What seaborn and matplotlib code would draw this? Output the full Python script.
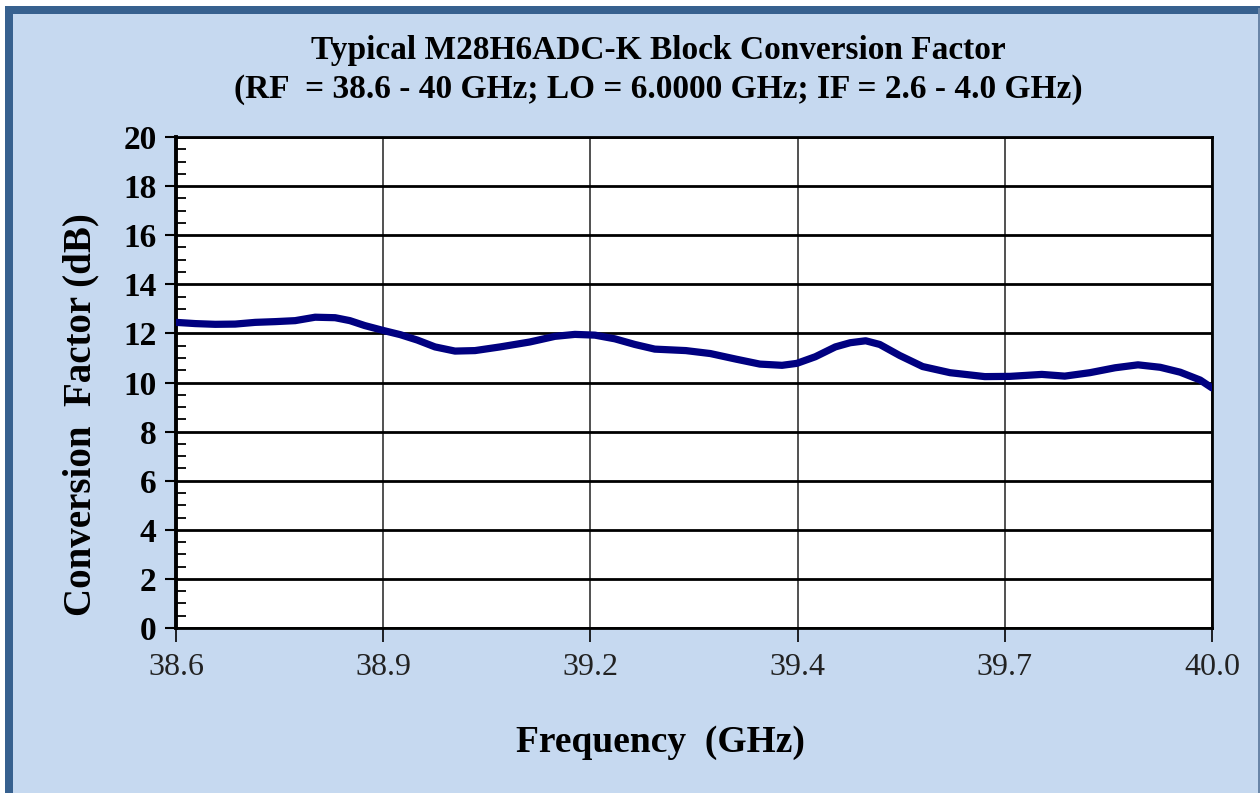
import numpy as np
import pandas as pd
import matplotlib
matplotlib.use("Agg")
import matplotlib.pyplot as plt
import matplotlib.patches as mpatches
from matplotlib.ticker import MultipleLocator
import seaborn as sns

# data
freq = [38.600, 38.626, 38.653, 38.680, 38.707, 38.734, 38.761, 38.788, 38.815, 38.835,
        38.855, 38.880, 38.903, 38.926, 38.950, 38.977, 39.004, 39.038, 39.078, 39.112,
        39.139, 39.166, 39.193, 39.220, 39.247, 39.289, 39.322, 39.357, 39.389, 39.419,
        39.439, 39.464, 39.491, 39.511, 39.532, 39.551, 39.578, 39.609, 39.646, 39.693,
        39.727, 39.770, 39.801, 39.835, 39.869, 39.900, 39.930, 39.957, 39.984, 40.000]
conv = [12.45, 12.40, 12.37, 12.38, 12.45, 12.48, 12.52, 12.66, 12.64, 12.52,
        12.32, 12.12, 11.95, 11.73, 11.45, 11.28, 11.30, 11.45, 11.65, 11.88,
        11.96, 11.93, 11.78, 11.55, 11.36, 11.30, 11.18, 10.95, 10.75, 10.70,
        10.78, 11.05, 11.45, 11.62, 11.70, 11.55, 11.10, 10.65, 10.40, 10.24,
        10.25, 10.33, 10.26, 10.40, 10.60, 10.72, 10.62, 10.42, 10.10, 9.78]
x_ticks = [38.6, 38.88, 39.16, 39.44, 39.72, 40.0]
x_tick_labels = ["38.6", "38.9", "39.2", "39.4", "39.7", "40.0"]
y_ticks = [0, 2, 4, 6, 8, 10, 12, 14, 16, 18, 20]

df = pd.DataFrame({"freq": freq, "conv": conv})

sns.set_theme(style="ticks")
plt.rcParams["font.family"] = ["Liberation Serif", "DejaVu Serif"]
plt.rcParams["text.color"] = "black"

bg = "#c6d9f0"
dark = "#37618f"

fig = plt.figure(figsize=(12.6, 7.93), dpi=100, facecolor=bg)
# slide frame
fig.patches.append(mpatches.Rectangle((0, 0.9924), 1, 0.0076, transform=fig.transFigure,
                                      facecolor="white", edgecolor="none", zorder=0))
fig.patches.append(mpatches.Rectangle((0, 0), 0.004, 1, transform=fig.transFigure,
                                      facecolor="white", edgecolor="none", zorder=0))
fig.patches.append(mpatches.Rectangle((0.004, 0.9824), 0.996, 0.0100, transform=fig.transFigure,
                                      facecolor=dark, edgecolor="none", zorder=0))
fig.patches.append(mpatches.Rectangle((0.004, 0), 0.0064, 0.9924, transform=fig.transFigure,
                                      facecolor=dark, edgecolor="none", zorder=0))
fig.patches.append(mpatches.Rectangle((0.9985, 0), 0.0015, 0.99, transform=fig.transFigure,
                                      facecolor="#6a86a8", edgecolor="none", zorder=0))

ax = fig.add_axes([0.1397, 0.2081, 0.8222, 0.6191])
ax.set_facecolor("white")

sns.lineplot(data=df, x="freq", y="conv", ax=ax, color="#000080", linewidth=5.2, zorder=5)

ax.set_xlim(38.6, 40.0)
ax.set_ylim(0, 20)
ax.set_xticks(x_ticks)
ax.set_xticklabels(x_tick_labels, fontsize=23)
ax.set_yticks(y_ticks)
ax.set_yticklabels([str(v) for v in y_ticks], fontsize=24, fontweight="bold")
ax.yaxis.set_minor_locator(MultipleLocator(0.5))

ax.grid(axis="y", which="major", color="black", linewidth=2.0, zorder=1)
ax.grid(axis="x", which="major", color="#333333", linewidth=1.2, zorder=1)

ax.tick_params(axis="y", which="major", direction="out", length=8, width=1.5, pad=6,
               colors="black", labelcolor="black")
ax.tick_params(axis="y", which="minor", direction="in", length=7, width=1.3, colors="black")
ax.tick_params(axis="x", which="major", direction="out", length=10, width=1.2, pad=8,
               colors="black", labelcolor="#222222")

for side in ["left", "right", "top", "bottom"]:
    ax.spines[side].set_visible(True)
    ax.spines[side].set_color("black")
    ax.spines[side].set_linewidth(2.0)
ax.spines["left"].set_linewidth(2.8)

ax.set_xlabel("")
ax.set_ylabel("")

fig.text(0.5225, 0.912, "Typical M28H6ADC-K Block Conversion Factor\n"
         "(RF  = 38.6 - 40 GHz; LO = 6.0000 GHz; IF = 2.6 - 4.0 GHz)",
         ha="center", va="center", fontsize=24, fontweight="bold", linespacing=1.3,
         color="black")
fig.text(0.064, 0.477, "Conversion  Factor (dB)", rotation=90, ha="center", va="center",
         fontsize=28, fontweight="bold", color="black")
fig.text(0.5245, 0.064, "Frequency  (GHz)", ha="center", va="center",
         fontsize=27, fontweight="bold", color="black")

fig.savefig("out.png", dpi=100, facecolor=bg)
